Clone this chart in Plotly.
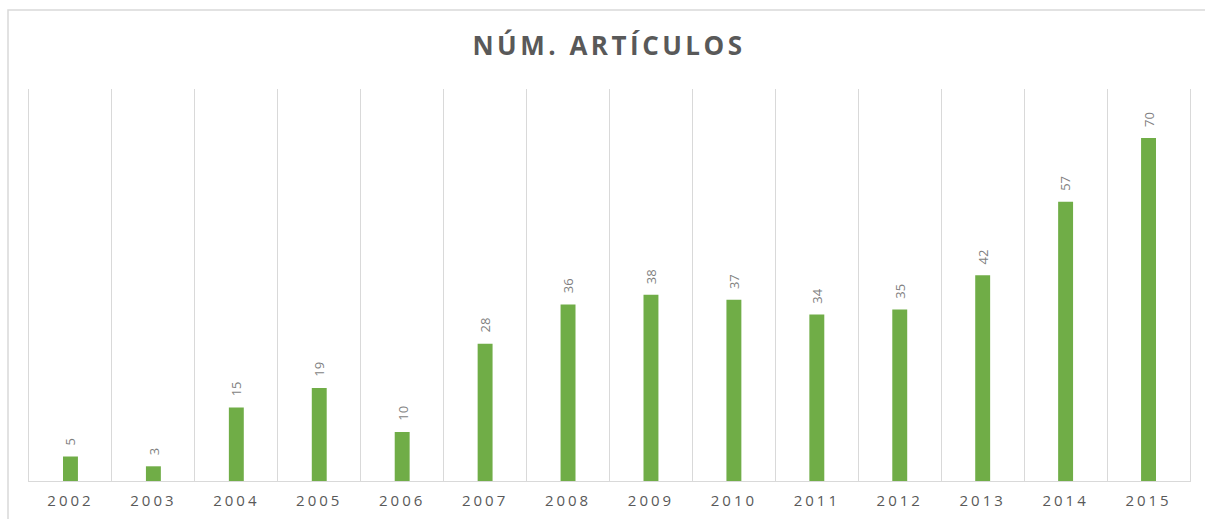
import plotly.graph_objects as go

years = ["2002", "2003", "2004", "2005", "2006", "2007", "2008",
         "2009", "2010", "2011", "2012", "2013", "2014", "2015"]
articles = [5, 3, 15, 19, 10, 28, 36, 38, 37, 34, 35, 42, 57, 70]

title_text = "NÚM. ARTÍCULOS"

fig = go.Figure()
fig.add_trace(go.Bar(
    x=years, y=articles,
    marker=dict(color="#70AD47", line=dict(width=0)),
    width=0.18,
    hoverinfo="x+y",
))

annotations = []
for i, v in enumerate(articles):
    annotations.append(dict(
        x=i, y=v, xref="x", yref="y",
        text=str(v), showarrow=False, textangle=-90,
        xanchor="center", yanchor="bottom", yshift=9,
        font=dict(family="Open Sans", size=13, color="#7f7f7f"),
    ))

fig.update_layout(
    width=1205, height=519,
    margin=dict(l=29, r=15, t=89, b=38, autoexpand=False),
    paper_bgcolor="white", plot_bgcolor="white",
    showlegend=False,
    title=dict(
        text=title_text,
        x=609 / 1205, xanchor="center", xref="container",
        y=1 - 46 / 519, yanchor="middle", yref="container",
        font=dict(family="Open Sans", size=26, color="#595959", weight="bold"),
    ),
    xaxis=dict(
        type="category",
        range=[-0.5, len(years) - 0.5],
        tickson="boundaries",
        showgrid=True, gridcolor="#d9d9d9", gridwidth=1,
        showline=True, linecolor="#d9d9d9", linewidth=1,
        ticks="", ticklabelstandoff=6, tickangle=0, automargin=False,
        tickfont=dict(family="Open Sans", size=15, color="#595959"),
        zeroline=False,
    ),
    yaxis=dict(
        range=[0, 80],
        showgrid=False, showticklabels=False, zeroline=False,
        showline=True, mirror=True, linecolor="#d9d9d9", linewidth=1,
        ticks="", automargin=False,
    ),
    annotations=annotations,
    shapes=[dict(
        type="rect", xref="paper", yref="paper",
        x0=(8 - 29) / 1161, x1=1.05, y0=-0.3, y1=(481 - 10) / 392,
        line=dict(color="#d9d9d9", width=1.5), fillcolor="rgba(0,0,0,0)",
        layer="below",
    )],
)

post = """
(function(){
  document.body.style.margin='0';
  document.body.style.overflow='hidden';
  function ls(){
    document.querySelectorAll('.gtitle').forEach(function(e){e.style.letterSpacing='3.5px';});
    document.querySelectorAll('.xtick text').forEach(function(e){e.style.letterSpacing='3px';});
  }
  ls();
  var gd = document.getElementById('{plot_id}');
  if (gd && gd.on) { gd.on('plotly_afterplot', ls); }
})();
"""

fig.write_html("out.html", post_script=post, config={"displayModeBar": False})
